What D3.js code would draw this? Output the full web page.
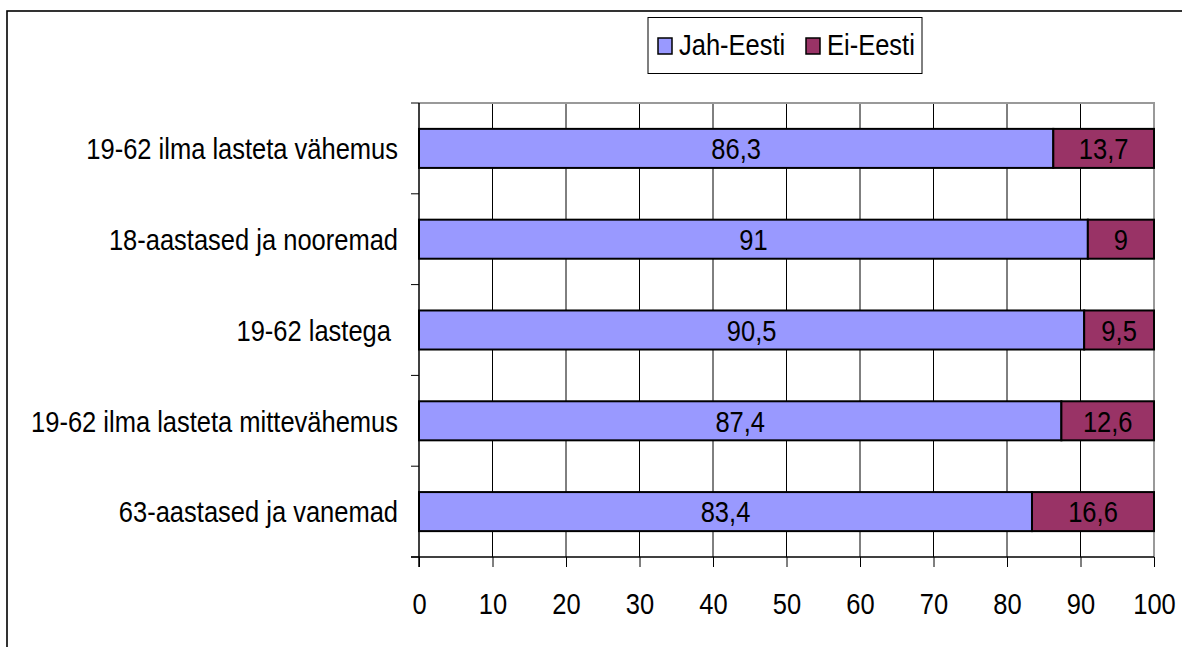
<!DOCTYPE html>
<html>
<head>
<meta charset="utf-8">
<script src="https://cdn.jsdelivr.net/npm/d3@7"></script>
<style>
  html, body { margin: 0; padding: 0; background: #fff; }
  svg { display: block; font-family: "Liberation Sans", Arial, sans-serif; }
</style>
</head>
<body>
<svg id="chart" width="1182" height="647"></svg>
<script>
// Survey groups, top to bottom
const categories = [
  "19-62 ilma lasteta vähemus",
  "18-aastased ja nooremad",
  "19-62 lastega ",
  "19-62 ilma lasteta mittevähemus",
  "63-aastased ja vanemad"
];
const seriesNames = ["Jah-Eesti", "Ei-Eesti"];
const jahEesti = [86.3, 91, 90.5, 87.4, 83.4];
const eiEesti = [13.7, 9, 9.5, 12.6, 16.6];
const xTicks = [0, 10, 20, 30, 40, 50, 60, 70, 80, 90, 100];
const colors = ["#9999FF", "#993366"];

const FONT_SIZE = 30;
const SQUEEZE = 0.85;   // narrow, tall lettering

const svg = d3.select("#chart");
const fmt = v => String(v).replace(".", ",");

// Places a condensed text label with its anchor at (x, y)
function label(parent, x, y, txt, anchor) {
  return parent.append("g")
    .attr("transform", `translate(${x},${y}) scale(${SQUEEZE},1)`)
    .append("text")
    .attr("text-anchor", anchor)
    .attr("dy", "0.36em")
    .attr("font-size", FONT_SIZE)
    .attr("fill", "#000")
    .attr("xml:space", "preserve")
    .style("white-space", "pre")
    .text(txt);
}

// Outer chart frame
svg.append("rect")
  .attr("x", 7).attr("y", 11).attr("width", 1200).attr("height", 700)
  .attr("fill", "none").attr("stroke", "#000").attr("stroke-width", 1.6);

const plot = { left: 419, right: 1154, top: 103, bottom: 557 };

const x = d3.scaleLinear().domain([0, 100]).range([plot.left, plot.right]);
const y = d3.scaleBand().domain(categories).range([plot.top, plot.bottom]).paddingInner(0.57).paddingOuter(0.285);

// Vertical gridlines
svg.append("g").selectAll("line").data(xTicks.slice(1, -1)).join("line")
  .attr("x1", d => x(d)).attr("x2", d => x(d))
  .attr("y1", plot.top).attr("y2", plot.bottom)
  .attr("stroke", "#000").attr("stroke-width", 1);

// Plot area top/right border (grey)
svg.append("path")
  .attr("d", `M${plot.left},${plot.top}H${plot.right}V${plot.bottom}`)
  .attr("fill", "none").attr("stroke", "#999").attr("stroke-width", 2);

// Stacked data
const rows = categories.map((c, i) => ({ cat: c, vals: [jahEesti[i], eiEesti[i]] }));
const stacked = d3.stack().keys([0, 1]).value((d, k) => d.vals[k])(rows);

const layers = svg.append("g").selectAll("g").data(stacked).join("g")
  .attr("fill", (d, i) => colors[i]);

layers.selectAll("rect").data(d => d).join("rect")
  .attr("x", d => x(d[0]))
  .attr("width", d => x(d[1]) - x(d[0]))
  .attr("y", d => y(d.data.cat))
  .attr("height", y.bandwidth())
  .attr("stroke", "#000").attr("stroke-width", 2);

// Value labels inside segments
const valueLayer = svg.append("g");
stacked.forEach((layer, k) => {
  layer.forEach(s => {
    label(valueLayer, (x(s[0]) + x(s[1])) / 2, y(s.data.cat) + y.bandwidth() / 2,
      fmt(s.data.vals[k]), "middle");
  });
});

// X axis
const xAxis = svg.append("g")
  .attr("transform", `translate(0,${plot.bottom})`)
  .call(d3.axisBottom(x).tickValues(xTicks).tickSize(10).tickPadding(26).tickFormat(d => d));
xAxis.select(".domain").attr("d", `M${plot.left - 8},0H${plot.right}`).attr("stroke", "#000").attr("stroke-width", 1.5);
xAxis.selectAll(".tick line").attr("stroke", "#000");
xAxis.selectAll("text")
  .attr("font-size", FONT_SIZE).attr("fill", "#000")
  .attr("font-family", "Liberation Sans, Arial, sans-serif")
  .attr("transform", `scale(${SQUEEZE},1)`);

// Y axis: line with ticks between categories
const yAxis = svg.append("g");
yAxis.append("line")
  .attr("x1", plot.left).attr("x2", plot.left)
  .attr("y1", plot.top).attr("y2", plot.bottom + 10)
  .attr("stroke", "#000").attr("stroke-width", 1.5);
const step = (plot.bottom - plot.top) / categories.length;
yAxis.selectAll("line.tk").data(d3.range(categories.length + 1)).join("line")
  .attr("class", "tk")
  .attr("x1", plot.left - 8).attr("x2", plot.left)
  .attr("y1", i => plot.top + i * step).attr("y2", i => plot.top + i * step)
  .attr("stroke", "#000").attr("stroke-width", 1);
categories.forEach(c => {
  label(yAxis, plot.left - 21, y(c) + y.bandwidth() / 2, c, "end");
});

// Legend
const legend = svg.append("g");
legend.append("rect")
  .attr("x", 648).attr("y", 17.5).attr("width", 274).attr("height", 56)
  .attr("fill", "#fff").attr("stroke", "#000").attr("stroke-width", 1);
const legendX = [658, 806];
seriesNames.forEach((name, i) => {
  legend.append("rect")
    .attr("x", legendX[i]).attr("y", 38).attr("width", 14).attr("height", 16)
    .attr("fill", colors[i]).attr("stroke", "#000").attr("stroke-width", 1.5);
  label(legend, legendX[i] + 21, 44.5, name, "start");
});
</script>
</body>
</html>
